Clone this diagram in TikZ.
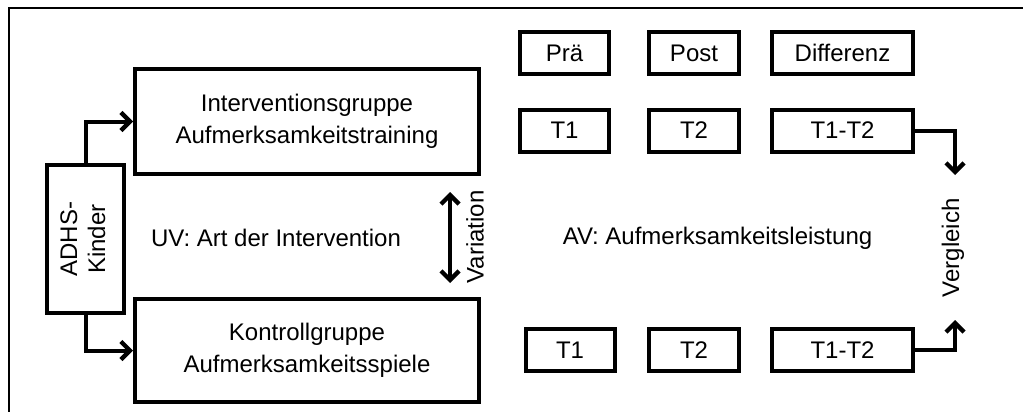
\documentclass[tikz,border=0pt]{standalone}
\usepackage{fontspec}
\setmainfont{Liberation Sans}
\usetikzlibrary{arrows.meta}
\tikzstyle{bloque}=[draw, rectangle, line width=4pt,
minimum width=344pt, minimum height=105pt, align=center]
\tikzstyle{kasten}=[draw, rectangle, line width=4pt,
minimum width=89pt, minimum height=42pt]
\tikzstyle{breit}=[minimum width=141pt]
\tikzstyle{linie}=[line width=4pt]
\tikzstyle{rahmen}=[line width=2pt]

\begin{document}
\begin{tikzpicture}[x=1pt, y=-1pt, auto, node distance=129.5pt,
	>={Straight Barb[length=9pt,width=18pt,line width=0pt 1.1]},
	font=\fontsize{24}{32}\selectfont]
		\useasboundingbox (0,0) rectangle (1023,412);
		\draw[rahmen] (9,412) -- (9,8) -- (1023,8);
		% Gruppen
		\node[bloque, name=interv] at (307,121.5) {Interventionsgruppe\\Aufmerksamkeitstraining};
		\node[bloque, name=kontroll, minimum height=103pt] at (307,350.5) {Kontrollgruppe\\Aufmerksamkeitsspiele};
		\node[draw, rectangle, line width=4pt, minimum width=77pt, minimum height=148pt,
			name=adhs] at (85.5,239)
			{\rotatebox{90}{\fontsize{24}{28}\selectfont\begin{tabular}{@{}c@{}}ADHS-\\Kinder\end{tabular}}};
		\draw[linie,->] (adhs.north) |- (interv.west);
		\draw[linie,->] (adhs.south) |- (kontroll.west);
		\node (uv) at (276,238) {UV: Art der Intervention};
		\coordinate (vtop) at (450,192);
		\coordinate (vbot) at (450,283);
		\draw[linie,<->] (vtop) -- (vbot);
		\node[rotate=90] (var) at (475,237) {Variation};
		% Messzeitpunkte
		\node[kasten] (pra) at (564.5,53) {Prä};
		\node[kasten, right of=pra, minimum width=90pt] (post) {Post};
		\node[kasten, breit, right of=post, node distance=148.5pt] (diff) {Differenz};
		\node[kasten, below of=pra, node distance=77.5pt] (t1a) {T1};
		\node[kasten, right of=t1a, minimum width=90pt] (t2a) {T2};
		\node[kasten, breit, right of=t2a, node distance=148.5pt] (diffa) {T1-T2};
		\node[kasten] (t1b) at (570,350) {T1};
		\node[kasten, right of=t1b, node distance=124pt, minimum width=90pt] (t2b) {T2};
		\node[kasten, breit, right of=t2b, node distance=148.5pt] (diffb) {T1-T2};
		\node (av) at (717.5,238) {AV: Aufmerksamkeitsleistung};
		% Vergleich
		\coordinate (vgla) at (955,175);
		\coordinate (vglb) at (955,320);
		\draw[linie,->] (diffa.east) -| (vgla);
		\draw[linie,->] (diffb.east) -| (vglb);
		\node[rotate=90] (vgl) at (953,248) {Vergleich};
	\end{tikzpicture}
\end{document}
